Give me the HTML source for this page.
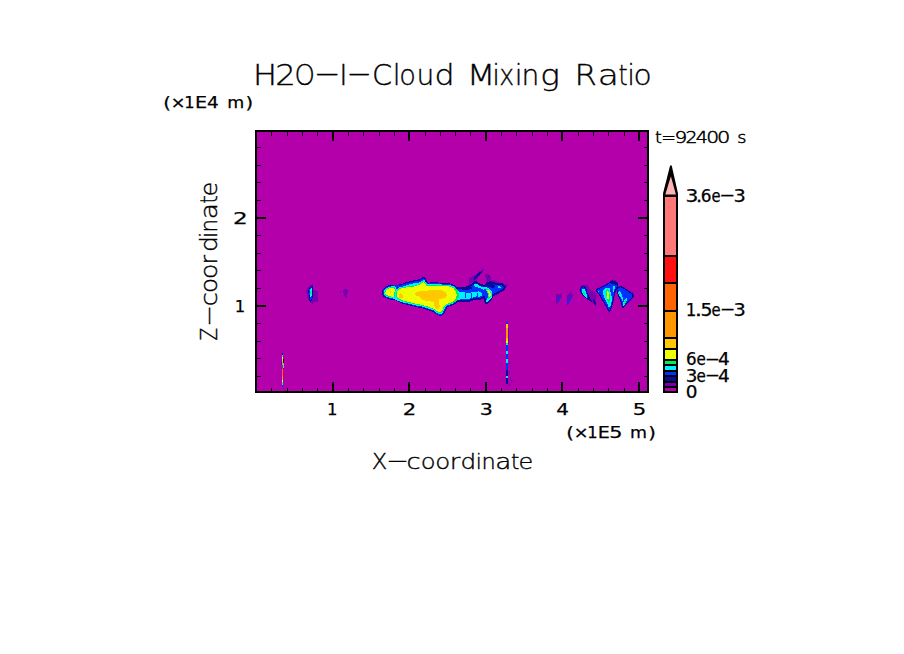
<!DOCTYPE html>
<html><head><meta charset="utf-8"><title>H2O-I-Cloud Mixing Ratio</title>
<style>
html,body{margin:0;padding:0;background:#fff;}
body{width:904px;height:654px;overflow:hidden;position:relative;}
svg{position:absolute;left:0;top:0;display:block;}
text{font-family:"DejaVu Sans","Liberation Sans",sans-serif;fill:#000;}
.lt{font-family:"DejaVu Sans Light","DejaVu Sans","Liberation Sans",sans-serif;font-weight:200;}
.bd{stroke:#000;stroke-width:0.25px;}
</style></head><body>
<svg width="904" height="654" viewBox="0 0 904 654">

<g shape-rendering="crispEdges">
<rect x="255" y="130" width="394" height="263" fill="#000"/>
<rect x="257" y="132" width="390" height="259" fill="#b400aa"/>
</g>
<g shape-rendering="crispEdges">
<polygon points="469.1,277.7 472.4,276.4 474.9,275.2 478.2,272.3 481.5,269.8 484.0,269.0 484.8,270.2 482.3,272.3 479.8,275.2 478.2,277.7 476.5,280.6 474.0,281.8 471.5,283.1 469.5,283.5 469.1,280.6" fill="#7800ae"/>
<polygon points="484.8,274.4 488.1,273.5 490.6,276.4 491.9,278.9 490.6,280.6 487.3,281.8 485.7,280.6 486.5,278.1 485.2,276.4" fill="#7800ae"/>
<polygon points="492.3,280.2 496.4,280.6 498.9,282.7 498.1,284.3 494.8,283.5 492.3,282.3" fill="#7800ae"/>
<polygon points="505.2,284.3 507.2,283.9 507.6,285.6 506.0,286.8" fill="#7800ae"/>
<polygon points="474.0,277.3 478.2,273.1 481.5,271.1 482.3,272.3 479.0,275.6 475.7,279.3 474.0,279.8" fill="#0a0a9a"/>
<polygon points="487.5,275.8 488.8,275.8 488.8,277.1 487.5,277.1" fill="#0a0a9a"/>
<polygon points="385.1,292.4 386.3,290.2 389.6,288.3 394.2,287.8 395.0,289.9 394.2,293.2 394.6,296.4 392.1,296.7 388.0,295.6 385.6,294.3" fill="#0a0a9a" stroke="#0a0a9a" stroke-width="6.4" stroke-linejoin="round"/>
<polygon points="397.5,290.7 400.4,288.7 405.4,287.6 411.2,286.8 415.3,286.3 419.5,284.6 422.4,282.6 424.1,282.4 425.6,284.6 427.0,286.3 431.1,285.5 436.1,285.5 442.7,286.2 448.5,286.2 450.0,286.8 453.3,288.1 455.4,290.6 456.7,294.7 455.8,298.9 453.3,301.4 450.0,303.0 446.0,304.0 443.5,307.3 441.9,311.1 440.2,312.7 437.7,311.5 435.2,309.4 432.8,308.3 429.4,307.2 427.0,306.3 422.8,305.1 417.8,304.2 412.8,303.0 407.9,301.8 402.9,300.5 398.7,298.5 397.1,296.5 397.1,293.2" fill="#0a0a9a" stroke="#0a0a9a" stroke-width="6.4" stroke-linejoin="round"/>
<polygon points="385.1,292.4 386.3,290.2 389.6,288.3 394.2,287.8 395.0,289.9 394.2,293.2 394.6,296.4 392.1,296.7 388.0,295.6 385.6,294.3" fill="#0032ff" stroke="#0032ff" stroke-width="4.8" stroke-linejoin="round"/>
<polygon points="397.5,290.7 400.4,288.7 405.4,287.6 411.2,286.8 415.3,286.3 419.5,284.6 422.4,282.6 424.1,282.4 425.6,284.6 427.0,286.3 431.1,285.5 436.1,285.5 442.7,286.2 448.5,286.2 450.0,286.8 453.3,288.1 455.4,290.6 456.7,294.7 455.8,298.9 453.3,301.4 450.0,303.0 446.0,304.0 443.5,307.3 441.9,311.1 440.2,312.7 437.7,311.5 435.2,309.4 432.8,308.3 429.4,307.2 427.0,306.3 422.8,305.1 417.8,304.2 412.8,303.0 407.9,301.8 402.9,300.5 398.7,298.5 397.1,296.5 397.1,293.2" fill="#0032ff" stroke="#0032ff" stroke-width="4.8" stroke-linejoin="round"/>
<polygon points="397.9,285.6 402.9,284.1 406.5,282.7 413.2,281.0 419.8,279.9 423.2,277.6 424.7,277.6 425.5,281.2 426.1,284.1 419.5,285.3 411.2,286.2 402.9,287.0" fill="#0032ff" stroke="#0a0a9a" stroke-width="1.2" stroke-linejoin="round"/>
<polygon points="390.4,286.2 394.6,285.2 398.7,284.9 402.9,284.4 406.2,283.7 411.2,282.9 414.5,282.4 414.5,285.8 405.4,286.6 398.7,287.4 392.9,287.3" fill="#0032ff"/>
<polygon points="455.8,288.9 460.8,287.6 464.1,288.1 466.6,287.2 469.9,286.0 473.2,283.5 475.7,281.8 478.2,283.5 481.5,285.2 485.7,286.0 486.9,282.7 491.5,282.3 494.8,283.5 498.9,284.3 502.2,284.3 504.7,286.8 504.3,288.9 502.2,290.5 498.9,292.2 495.6,293.9 493.1,295.1 491.9,297.2 490.6,299.7 488.1,302.2 486.1,303.4 485.2,301.3 484.8,298.8 484.0,297.2 481.5,298.4 479.0,299.3 474.9,298.8 469.9,300.5 465.7,300.9 461.6,300.5 458.3,300.5 455.8,300.5" fill="#0032ff" stroke="#0a0a9a" stroke-width="2" stroke-linejoin="round"/>
<polygon points="486.9,282.7 491.5,282.3 494.0,283.9 494.8,286.4 493.1,288.1 490.6,287.2 488.1,286.4 486.9,284.7" fill="#0a0a9a"/>
<polygon points="461.6,288.5 466.6,287.4 469.9,286.2 472.4,288.1 469.9,289.3 465.7,290.1 462.4,290.1" fill="#0a0a9a"/>
<polygon points="455.0,291.4 458.7,291.4 461.6,291.8 464.9,292.6 469.1,293.0 472.4,292.2 475.7,291.8 479.0,291.4 481.5,292.6 481.9,295.5 479.8,296.8 476.5,296.4 473.2,297.2 469.9,298.8 465.7,298.8 461.6,299.3 459.1,299.7 455.0,300.5" fill="#00f0ff"/>
<polygon points="464.7,292.6 465.9,292.6 465.9,297.6 464.7,297.6" fill="#0032ff"/>
<polygon points="470.9,292.6 472.0,292.6 472.0,297.6 470.9,297.6" fill="#0032ff"/>
<polygon points="477.2,292.6 478.4,292.6 478.4,297.6 477.2,297.6" fill="#0032ff"/>
<polygon points="474.0,283.9 476.5,283.5 478.2,285.2 481.5,286.8 484.8,287.6 485.7,288.9 484.0,289.7 480.7,288.5 478.2,287.6 475.7,286.8 474.0,286.0" fill="#00f0ff"/>
<polygon points="484.0,287.2 487.3,287.6 490.6,289.7 492.3,293.0 491.9,297.2 490.2,299.7 487.3,301.7 486.1,302.6 485.7,300.5 487.3,298.8 488.1,295.5 487.3,292.2 485.7,289.7" fill="#00f0ff"/>
<polygon points="484.8,288.1 488.1,288.9 490.6,291.8 491.0,295.9 489.4,298.4 487.7,299.3 488.6,295.9 488.1,292.6 486.5,290.1" fill="#00f050"/>
<polygon points="486.9,289.3 489.0,290.5 490.5,293.0 490.6,295.9 489.6,297.2 488.8,294.3 488.0,291.8" fill="#f0ff00"/>
<polygon points="498.1,286.0 500.2,286.0 500.6,287.6 498.9,288.5 497.9,287.6" fill="#00f0ff"/>
<polygon points="402.9,286.4 407.0,285.1 413.2,283.5 419.8,282.3 423.3,280.4 424.5,280.4 425.1,284.3 419.5,285.1 411.2,286.3" fill="#00f0ff"/>
<polygon points="423.3,285.1 423.6,282.0 424.5,282.0 424.8,285.1" fill="#00f050"/>
<polygon points="385.1,292.4 386.3,290.2 389.6,288.3 394.2,287.8 395.0,289.9 394.2,293.2 394.6,296.4 392.1,296.7 388.0,295.6 385.6,294.3" fill="#00f0ff" stroke="#00f0ff" stroke-width="3.2" stroke-linejoin="round"/>
<polygon points="397.5,290.7 400.4,288.7 405.4,287.6 411.2,286.8 415.3,286.3 419.5,284.6 422.4,282.6 424.1,282.4 425.6,284.6 427.0,286.3 431.1,285.5 436.1,285.5 442.7,286.2 448.5,286.2 450.0,286.8 453.3,288.1 455.4,290.6 456.7,294.7 455.8,298.9 453.3,301.4 450.0,303.0 446.0,304.0 443.5,307.3 441.9,311.1 440.2,312.7 437.7,311.5 435.2,309.4 432.8,308.3 429.4,307.2 427.0,306.3 422.8,305.1 417.8,304.2 412.8,303.0 407.9,301.8 402.9,300.5 398.7,298.5 397.1,296.5 397.1,293.2" fill="#00f0ff" stroke="#00f0ff" stroke-width="3.2" stroke-linejoin="round"/>
<polygon points="385.1,292.4 386.3,290.2 389.6,288.3 394.2,287.8 395.0,289.9 394.2,293.2 394.6,296.4 392.1,296.7 388.0,295.6 385.6,294.3" fill="#00f050" stroke="#00f050" stroke-width="1.6" stroke-linejoin="round"/>
<polygon points="397.5,290.7 400.4,288.7 405.4,287.6 411.2,286.8 415.3,286.3 419.5,284.6 422.4,282.6 424.1,282.4 425.6,284.6 427.0,286.3 431.1,285.5 436.1,285.5 442.7,286.2 448.5,286.2 450.0,286.8 453.3,288.1 455.4,290.6 456.7,294.7 455.8,298.9 453.3,301.4 450.0,303.0 446.0,304.0 443.5,307.3 441.9,311.1 440.2,312.7 437.7,311.5 435.2,309.4 432.8,308.3 429.4,307.2 427.0,306.3 422.8,305.1 417.8,304.2 412.8,303.0 407.9,301.8 402.9,300.5 398.7,298.5 397.1,296.5 397.1,293.2" fill="#00f050" stroke="#00f050" stroke-width="1.6" stroke-linejoin="round"/>
<polygon points="448.3,285.7 454.1,287.2 457.4,289.9 458.9,293.9 458.5,298.0 456.6,300.9 453.3,303.0 448.3,304.7" fill="#00f050"/>
<polygon points="390.4,297.5 394.6,299.2 398.7,301.1 403.7,302.6 408.7,303.4 413.7,304.3 418.7,305.3 422.4,306.3 425.7,307.6 428.2,308.7 431.1,308.8 433.2,309.8 435.2,311.5 435.2,309.4 432.8,308.3 429.4,307.2 427.0,306.3 422.8,305.1 417.8,304.2 412.8,303.0 407.9,301.8 402.9,300.5 398.7,298.5 394.6,296.5" fill="#00f0ff"/>
<polygon points="385.1,292.4 386.3,290.2 389.6,288.3 394.2,287.8 395.0,289.9 394.2,293.2 394.6,296.4 392.1,296.7 388.0,295.6 385.6,294.3" fill="#00f050" stroke="#00f050" stroke-width="1.6" stroke-linejoin="round"/>
<polygon points="397.5,290.7 400.4,288.7 405.4,287.6 411.2,286.8 415.3,286.3 419.5,284.6 422.4,282.6 424.1,282.4 425.6,284.6 427.0,286.3 431.1,285.5 436.1,285.5 442.7,286.2 448.5,286.2 450.0,286.8 453.3,288.1 455.4,290.6 456.7,294.7 455.8,298.9 453.3,301.4 450.0,303.0 446.0,304.0 443.5,307.3 441.9,311.1 440.2,312.7 437.7,311.5 435.2,309.4 432.8,308.3 429.4,307.2 427.0,306.3 422.8,305.1 417.8,304.2 412.8,303.0 407.9,301.8 402.9,300.5 398.7,298.5 397.1,296.5 397.1,293.2" fill="#00f050" stroke="#00f050" stroke-width="1.6" stroke-linejoin="round"/>
<polygon points="385.1,292.4 386.3,290.2 389.6,288.3 394.2,287.8 395.0,289.9 394.2,293.2 394.6,296.4 392.1,296.7 388.0,295.6 385.6,294.3" fill="#f0ff00"/>
<polygon points="397.5,290.7 400.4,288.7 405.4,287.6 411.2,286.8 415.3,286.3 419.5,284.6 422.4,282.6 424.1,282.4 425.6,284.6 427.0,286.3 431.1,285.5 436.1,285.5 442.7,286.2 448.5,286.2 450.0,286.8 453.3,288.1 455.4,290.6 456.7,294.7 455.8,298.9 453.3,301.4 450.0,303.0 446.0,304.0 443.5,307.3 441.9,311.1 440.2,312.7 437.7,311.5 435.2,309.4 432.8,308.3 429.4,307.2 427.0,306.3 422.8,305.1 417.8,304.2 412.8,303.0 407.9,301.8 402.9,300.5 398.7,298.5 397.1,296.5 397.1,293.2" fill="#f0ff00"/>
<polygon points="414.5,294.1 417.0,291.7 421.1,291.2 427.8,290.7 431.9,289.5 436.1,289.5 441.1,290.3 445.2,292.0 447.3,294.9 446.0,297.4 442.7,298.6 439.4,299.5 439.0,303.2 439.8,306.5 438.6,309.0 436.1,309.0 434.4,305.7 434.4,301.9 431.1,301.5 427.0,301.1 422.8,299.9 420.3,297.8 418.7,295.7 416.2,295.7" fill="#ffc800"/>
<polygon points="398.7,294.9 400.8,293.1 402.9,294.9 402.5,297.8 399.6,298.2" fill="#ffc800"/>
<polygon points="390.3,291.2 391.4,291.2 391.4,292.6 390.3,292.6" fill="#ffc800"/>
<polygon points="579.3,289.3 580.8,285.7 584.3,284.6 587.9,285.3 589.4,289.3 592.3,291.3 595.1,292.7 596.6,295.4 596.2,300.8 595.9,305.8 594.4,305.1 593.0,302.9 590.8,302.2 587.9,300.0 583.6,296.8 580.8,293.6" fill="#7800ae"/>
<polygon points="595.5,289.3 599.4,287.5 603.8,285.3 607.4,283.5 610.2,281.0 612.4,279.2 615.6,280.3 618.5,283.5 618.1,286.7 617.1,289.3 615.3,293.6 613.8,300.8 611.0,310.8 609.5,312.6 607.7,310.8 605.2,305.8 601.6,299.7 598.0,293.6" fill="#7800ae"/>
<polygon points="616.1,288.5 618.1,286.4 621.4,285.7 624.6,287.1 627.5,289.3 630.4,291.1 633.6,293.2 634.3,296.1 632.5,299.0 628.2,303.3 622.8,309.0 621.7,306.5 620.3,301.5 618.1,295.0 616.7,291.4" fill="#7800ae"/>
<polygon points="580.0,289.3 581.1,286.7 583.6,286.0 585.8,287.1 586.9,290.0 587.6,292.9 589.0,296.4 590.5,299.3 591.9,300.8 591.5,301.8 589.7,301.1 587.9,299.3 585.8,297.9 583.3,296.1 581.5,293.6 580.2,291.4" fill="#0a0a9a"/>
<polygon points="580.9,289.6 581.8,287.7 584.0,287.2 585.4,288.9 586.4,292.1 587.6,295.7 588.3,298.2 586.5,297.5 583.6,295.4 581.8,292.9" fill="#0032ff"/>
<polygon points="581.8,290.3 582.9,288.9 584.7,289.3 585.8,292.1 586.9,295.7 587.2,297.9 585.8,297.2 583.6,295.0 582.2,292.9" fill="#00f0ff"/>
<polygon points="582.9,291.4 584.0,290.7 585.1,292.9 585.6,295.0 584.7,295.4 583.5,293.6" fill="#00f050"/>
<polygon points="593.3,300.4 594.8,300.4 596.0,302.9 595.9,305.4 594.8,304.4 593.7,302.6" fill="#0a0a9a"/>
<polygon points="596.2,289.6 599.4,288.2 603.8,286.0 607.4,284.2 610.2,282.1 612.4,281.0 615.3,281.7 617.4,283.9 617.1,286.4 616.0,288.9 614.9,291.8 614.2,295.0 613.5,298.6 612.7,302.2 611.7,305.8 610.6,309.4 609.5,311.5 608.4,310.5 607.4,308.0 605.9,305.4 604.5,302.9 602.7,300.0 600.9,296.8 598.7,293.6 596.9,291.4" fill="#0032ff" stroke="#0a0a9a" stroke-width="1" stroke-linejoin="round"/>
<polygon points="609.5,282.4 612.4,281.0 615.3,281.7 617.4,283.9 616.3,285.3 613.8,283.5 611.0,283.5" fill="#0a0a9a"/>
<polygon points="603.0,291.1 604.5,288.9 606.6,287.5 608.8,287.5 610.2,289.3 610.6,292.9 611.3,295.7 612.0,296.8 611.7,300.8 611.0,304.4 609.9,307.2 608.4,306.5 607.4,303.6 605.9,300.8 604.5,297.9 603.4,294.3" fill="#00f0ff"/>
<polygon points="610.7,288.5 611.8,288.5 612.1,296.4 611.2,295.7" fill="#0032ff"/>
<polygon points="605.9,290.0 607.7,288.9 609.2,290.7 609.5,294.3 609.9,298.6 609.5,302.2 608.4,303.6 607.4,300.8 606.6,296.4 606.1,292.9" fill="#00f050"/>
<polygon points="607.0,291.4 608.2,290.8 608.9,293.6 608.9,297.2 608.2,299.7 607.4,298.6 607.0,295.0" fill="#f0ff00"/>
<polygon points="613.1,286.4 614.5,286.0 614.9,287.5 613.8,290.7 613.1,292.9 612.7,290.0" fill="#00f0ff"/>
<polygon points="597.9,290.8 599.1,290.8 599.1,292.1 597.9,292.1" fill="#00f0ff"/>
<polygon points="616.7,288.9 618.1,287.5 621.0,286.7 623.9,288.2 626.8,290.3 629.6,292.1 632.5,293.9 633.2,296.1 631.8,298.2 629.6,300.4 627.5,302.6 625.3,304.7 623.9,306.5 622.8,308.0 622.1,305.8 621.4,302.9 620.3,300.0 618.9,296.4 617.8,292.9 617.1,290.7" fill="#0032ff" stroke="#0a0a9a" stroke-width="1" stroke-linejoin="round"/>
<polygon points="618.1,291.8 619.6,291.1 621.0,293.2 622.1,295.7 623.2,298.2 623.5,300.4 622.5,300.8 621.0,298.2 619.6,295.7 618.5,293.6" fill="#00f0ff"/>
<polygon points="618.7,292.7 619.9,292.7 619.9,293.9 618.7,293.9" fill="#00f050"/>
<polygon points="622.8,303.6 623.9,300.8 625.7,298.6 626.9,298.2 626.8,300.8 625.3,303.3 623.9,305.8 623.0,306.9" fill="#00f0ff"/>
<polygon points="623.9,302.6 625.0,300.4 626.2,299.7 626.2,301.1 625.0,303.3 624.0,304.4" fill="#00f050"/>
<polygon points="556.4,294.2 559.5,293.6 562.5,292.4 561.9,296.6 559.5,300.9 556.4,303.9 555.6,301.5" fill="#7800ae"/>
<polygon points="557.0,300.3 560.1,297.2 560.9,298.5 558.3,302.1" fill="#0032ff"/>
<polygon points="566.8,295.4 571.6,291.2 573.1,295.4 571.0,299.7 568.6,303.9 566.5,305.8" fill="#7800ae"/>
<polygon points="567.4,301.5 570.4,296.6 571.9,297.2 569.2,302.1 567.4,304.5" fill="#0032ff"/>
<polygon points="306.1,290.8 307.9,287.7 311.0,284.7 313.1,284.1 313.4,289.6 315.8,290.2 317.6,291.1 317.9,302.3 316.4,302.0 314.6,301.4 312.8,303.6 311.0,303.2 309.1,301.4 307.0,296.3" fill="#7800ae"/>
<polygon points="308.2,291.1 309.1,288.3 311.0,286.5 312.8,286.2 312.9,292.6 312.5,298.1 311.9,301.4 310.3,301.7 309.1,300.5 309.0,296.3" fill="#0a0a9a"/>
<polygon points="309.2,290.2 310.3,287.7 312.2,287.1 312.5,292.6 311.9,297.5 311.3,299.9 310.0,299.6 309.6,296.3" fill="#0032ff"/>
<polygon points="309.9,290.2 311.0,288.0 311.9,288.6 311.9,293.2 311.4,296.3 310.6,297.2 310.0,296.3" fill="#00f0ff"/>
<polygon points="310.5,290.8 311.4,289.9 311.6,292.6 311.0,294.1 310.3,293.5" fill="#00f050"/>
<polygon points="343.2,290.2 345.0,289.0 346.8,289.3 348.1,291.4 347.2,293.2 346.8,297.5 345.3,297.8 344.1,295.6 344.1,292.9 343.1,292.3" fill="#7800ae"/>
<polygon points="339.9,291.1 341.1,291.1 341.1,292.9 339.9,292.9" fill="#7800ae"/>
<rect x="281.9" y="353.4" width="1.4" height="2.0" fill="#0a0a9a"/>
<rect x="281.9" y="355.4" width="1.4" height="0.8" fill="#00f0ff"/>
<rect x="281.9" y="356.2" width="1.4" height="0.8" fill="#00f050"/>
<rect x="281.9" y="357" width="1.4" height="2" fill="#f0ff00"/>
<rect x="281.9" y="359" width="1.4" height="3" fill="#ffc800"/>
<rect x="281.9" y="362" width="1.4" height="3" fill="#ff9600"/>
<rect x="281.9" y="365" width="1.4" height="3.7" fill="#ff1010"/>
<rect x="281.9" y="368.7" width="1.4" height="6.9" fill="#ff6400"/>
<rect x="281.9" y="375.6" width="1.4" height="4.2" fill="#ff9600"/>
<rect x="281.9" y="379.8" width="1.4" height="2.0" fill="#f0ff00"/>
<rect x="281.9" y="381.8" width="1.4" height="3.0" fill="#00f0ff"/>
<rect x="281.9" y="384.8" width="1.4" height="2.5" fill="#0032ff"/>
<rect x="283.2" y="358.8" width="1" height="4.0" fill="#0a0a9a"/>
<rect x="283.2" y="362.8" width="1" height="5.2" fill="#00f0ff"/>
<rect x="283.2" y="368" width="1" height="1.2" fill="#0032ff"/>
<rect x="281" y="360.5" width="0.9" height="4" fill="#7800ae"/>
<rect x="506" y="321.7" width="2" height="1.9" fill="#0032ff"/>
<rect x="506" y="323.6" width="2" height="4.0" fill="#ffc800"/>
<rect x="506" y="327.6" width="2" height="10.4" fill="#ff9600"/>
<rect x="506" y="338" width="2" height="3" fill="#ffc800"/>
<rect x="506" y="341" width="2" height="2" fill="#f0ff00"/>
<rect x="506" y="343" width="2" height="1.2" fill="#00f050"/>
<rect x="506" y="344.2" width="2" height="1.2" fill="#00f0ff"/>
<rect x="506" y="345.4" width="2" height="5.1" fill="#0032ff"/>
<rect x="506" y="350.5" width="2" height="3.5" fill="#00f0ff"/>
<rect x="506" y="354" width="2" height="4.6" fill="#0032ff"/>
<rect x="506" y="358.6" width="2" height="4.6" fill="#00f0ff"/>
<rect x="506.4" y="363.2" width="1.2" height="6.8" fill="#0032ff"/>
<rect x="506.4" y="370" width="1.2" height="6.4" fill="#0a0a9a"/>
<rect x="506.4" y="376.4" width="1.2" height="1.6" fill="#00f0ff"/>
<rect x="506.4" y="378" width="1.2" height="6.4" fill="#0a0a9a"/>
<rect x="508" y="327.5" width="0.8" height="16" fill="#7800ae"/>
<rect x="508.5" y="361" width="1" height="2.5" fill="#7800ae"/>
<rect x="509.5" y="366" width="1" height="2.5" fill="#7800ae"/>
<rect x="508.5" y="371" width="1" height="2.5" fill="#7800ae"/>
<rect x="510" y="377" width="1" height="2.5" fill="#7800ae"/>
<rect x="511" y="380" width="1" height="2.5" fill="#7800ae"/>
<rect x="513" y="379.5" width="1" height="2.5" fill="#7800ae"/>
<rect x="509" y="383" width="1" height="2.5" fill="#7800ae"/>
</g>
<g shape-rendering="crispEdges" fill="#000">
<rect x="271" y="388" width="1" height="3"/>
<rect x="271" y="132" width="1" height="4"/>
<rect x="287" y="388" width="1" height="3"/>
<rect x="287" y="132" width="1" height="4"/>
<rect x="302" y="388" width="1" height="3"/>
<rect x="302" y="132" width="1" height="4"/>
<rect x="317" y="388" width="1" height="3"/>
<rect x="317" y="132" width="1" height="4"/>
<rect x="332" y="382" width="2" height="9"/>
<rect x="332" y="132" width="2" height="9"/>
<rect x="348" y="388" width="1" height="3"/>
<rect x="348" y="132" width="1" height="4"/>
<rect x="363" y="388" width="1" height="3"/>
<rect x="363" y="132" width="1" height="4"/>
<rect x="379" y="388" width="1" height="3"/>
<rect x="379" y="132" width="1" height="4"/>
<rect x="394" y="388" width="1" height="3"/>
<rect x="394" y="132" width="1" height="4"/>
<rect x="408" y="382" width="2" height="9"/>
<rect x="408" y="132" width="2" height="9"/>
<rect x="425" y="388" width="1" height="3"/>
<rect x="425" y="132" width="1" height="4"/>
<rect x="440" y="388" width="1" height="3"/>
<rect x="440" y="132" width="1" height="4"/>
<rect x="455" y="388" width="1" height="3"/>
<rect x="455" y="132" width="1" height="4"/>
<rect x="470" y="388" width="1" height="3"/>
<rect x="470" y="132" width="1" height="4"/>
<rect x="485" y="382" width="2" height="9"/>
<rect x="485" y="132" width="2" height="9"/>
<rect x="501" y="388" width="1" height="3"/>
<rect x="501" y="132" width="1" height="4"/>
<rect x="516" y="388" width="1" height="3"/>
<rect x="516" y="132" width="1" height="4"/>
<rect x="532" y="388" width="1" height="3"/>
<rect x="532" y="132" width="1" height="4"/>
<rect x="547" y="388" width="1" height="3"/>
<rect x="547" y="132" width="1" height="4"/>
<rect x="561" y="382" width="2" height="9"/>
<rect x="561" y="132" width="2" height="9"/>
<rect x="578" y="388" width="1" height="3"/>
<rect x="578" y="132" width="1" height="4"/>
<rect x="593" y="388" width="1" height="3"/>
<rect x="593" y="132" width="1" height="4"/>
<rect x="608" y="388" width="1" height="3"/>
<rect x="608" y="132" width="1" height="4"/>
<rect x="624" y="388" width="1" height="3"/>
<rect x="624" y="132" width="1" height="4"/>
<rect x="638" y="382" width="2" height="9"/>
<rect x="638" y="132" width="2" height="9"/>
<rect x="257" y="147" width="4" height="1"/>
<rect x="644" y="147" width="3" height="1"/>
<rect x="257" y="165" width="4" height="1"/>
<rect x="644" y="165" width="3" height="1"/>
<rect x="257" y="182" width="4" height="1"/>
<rect x="644" y="182" width="3" height="1"/>
<rect x="257" y="200" width="4" height="1"/>
<rect x="644" y="200" width="3" height="1"/>
<rect x="257" y="235" width="4" height="1"/>
<rect x="644" y="235" width="3" height="1"/>
<rect x="257" y="253" width="4" height="1"/>
<rect x="644" y="253" width="3" height="1"/>
<rect x="257" y="270" width="4" height="1"/>
<rect x="644" y="270" width="3" height="1"/>
<rect x="257" y="288" width="4" height="1"/>
<rect x="644" y="288" width="3" height="1"/>
<rect x="257" y="323" width="4" height="1"/>
<rect x="644" y="323" width="3" height="1"/>
<rect x="257" y="341" width="4" height="1"/>
<rect x="644" y="341" width="3" height="1"/>
<rect x="257" y="358" width="4" height="1"/>
<rect x="644" y="358" width="3" height="1"/>
<rect x="257" y="376" width="4" height="1"/>
<rect x="644" y="376" width="3" height="1"/>
<rect x="257" y="217" width="9" height="2"/>
<rect x="638" y="217" width="9" height="2"/>
<rect x="257" y="305" width="9" height="2"/>
<rect x="638" y="305" width="9" height="2"/>
</g>
<g shape-rendering="crispEdges">
<rect x="663" y="195" width="15" height="198" fill="#000"/>
<rect x="665" y="197" width="11" height="58" fill="#ff7878"/>
<rect x="665" y="257" width="11" height="25" fill="#ff1010"/>
<rect x="665" y="284" width="11" height="26" fill="#ff6400"/>
<rect x="665" y="312" width="11" height="25" fill="#ff9600"/>
<rect x="665" y="339" width="11" height="9" fill="#ffc800"/>
<rect x="665" y="350" width="11" height="9" fill="#f0ff00"/>
<rect x="665" y="361" width="11" height="3" fill="#00f050"/>
<rect x="665" y="366" width="11" height="4" fill="#00f0ff"/>
<rect x="665" y="372" width="11" height="3" fill="#0032ff"/>
<rect x="665" y="377" width="11" height="4" fill="#0a0a9a"/>
<rect x="665" y="383" width="11" height="3" fill="#7800aa"/>
<rect x="665" y="388" width="11" height="3" fill="#b400aa"/>
</g>
<polygon points="663,197 663,193.5 670.1,165.6 671.7,165.6 678,193.5 678,197" fill="#000"/>
<polygon points="665.3,194.6 670.9,176.3 675.9,194.6" fill="#ffb4b4"/>
<text class="lt" font-size="28" id="title" stroke="#000" stroke-width="0.35"><tspan x="253.11" y="84.80" textLength="24.06" lengthAdjust="spacingAndGlyphs">H</tspan><tspan x="275.16" y="84.80" textLength="20.58" lengthAdjust="spacingAndGlyphs">2</tspan><tspan x="294.38" y="84.80" textLength="20.43" lengthAdjust="spacingAndGlyphs">O</tspan><tspan x="313.76" y="82.40" textLength="26.87" lengthAdjust="spacingAndGlyphs">-</tspan><tspan x="339.20" y="84.80" textLength="8.26" lengthAdjust="spacingAndGlyphs">I</tspan><tspan x="346.57" y="82.40" textLength="25.36" lengthAdjust="spacingAndGlyphs">-</tspan><tspan x="371.90" y="84.80" textLength="20.16" lengthAdjust="spacingAndGlyphs">C</tspan><tspan x="392.70" y="84.80" textLength="7.78" lengthAdjust="spacingAndGlyphs">l</tspan><tspan x="399.35" y="84.80" textLength="16.61" lengthAdjust="spacingAndGlyphs">o</tspan><tspan x="416.58" y="84.80" textLength="17.80" lengthAdjust="spacingAndGlyphs">u</tspan><tspan x="434.47" y="84.80" textLength="20.16" lengthAdjust="spacingAndGlyphs">d</tspan> <tspan x="466.66" y="84.80" textLength="28.68" lengthAdjust="spacingAndGlyphs">M</tspan><tspan x="492.23" y="84.80" textLength="7.78" lengthAdjust="spacingAndGlyphs">i</tspan><tspan x="499.20" y="84.80" textLength="14.90" lengthAdjust="spacingAndGlyphs">x</tspan><tspan x="514.73" y="84.80" textLength="7.78" lengthAdjust="spacingAndGlyphs">i</tspan><tspan x="521.62" y="84.80" textLength="17.80" lengthAdjust="spacingAndGlyphs">n</tspan><tspan x="540.27" y="84.80" textLength="19.60" lengthAdjust="spacingAndGlyphs">g</tspan> <tspan x="574.53" y="84.80" textLength="22.40" lengthAdjust="spacingAndGlyphs">R</tspan><tspan x="597.67" y="84.80" textLength="21.14" lengthAdjust="spacingAndGlyphs">a</tspan><tspan x="618.44" y="84.80" textLength="9.14" lengthAdjust="spacingAndGlyphs">t</tspan><tspan x="627.13" y="84.80" textLength="7.78" lengthAdjust="spacingAndGlyphs">i</tspan><tspan x="633.44" y="84.80" textLength="18.23" lengthAdjust="spacingAndGlyphs">o</tspan></text>
<text class="bd" font-size="16.4" id="yunit"><tspan x="163.31" y="108.40" textLength="7.66" lengthAdjust="spacingAndGlyphs">(</tspan><tspan x="170.79" y="108.40" textLength="14.71" lengthAdjust="spacingAndGlyphs">×</tspan><tspan x="184.24" y="108.40" textLength="10.43" lengthAdjust="spacingAndGlyphs">1</tspan><tspan x="194.92" y="108.40" textLength="12.11" lengthAdjust="spacingAndGlyphs">E</tspan><tspan x="207.10" y="108.40" textLength="11.74" lengthAdjust="spacingAndGlyphs">4</tspan> <tspan x="227.22" y="108.40" textLength="16.96" lengthAdjust="spacingAndGlyphs">m</tspan><tspan x="245.43" y="108.40" textLength="7.66" lengthAdjust="spacingAndGlyphs">)</tspan></text>
<text class="bd" font-size="16.4" id="xunit"><tspan x="566.21" y="437.70" textLength="7.66" lengthAdjust="spacingAndGlyphs">(</tspan><tspan x="573.69" y="437.70" textLength="14.71" lengthAdjust="spacingAndGlyphs">×</tspan><tspan x="587.14" y="437.70" textLength="10.43" lengthAdjust="spacingAndGlyphs">1</tspan><tspan x="597.82" y="437.70" textLength="12.11" lengthAdjust="spacingAndGlyphs">E</tspan><tspan x="609.30" y="437.70" textLength="13.22" lengthAdjust="spacingAndGlyphs">5</tspan> <tspan x="630.12" y="437.70" textLength="16.96" lengthAdjust="spacingAndGlyphs">m</tspan><tspan x="648.33" y="437.70" textLength="7.66" lengthAdjust="spacingAndGlyphs">)</tspan></text>
<text class="lt" font-size="16" id="tlabel" stroke="#000" stroke-width="0.5"><tspan x="655.02" y="142.70" textLength="6.89" lengthAdjust="spacingAndGlyphs">t</tspan><tspan x="661.34" y="142.70" textLength="14.72" lengthAdjust="spacingAndGlyphs">=</tspan><tspan x="674.64" y="142.70" textLength="12.80" lengthAdjust="spacingAndGlyphs">9</tspan><tspan x="685.59" y="142.70" textLength="11.99" lengthAdjust="spacingAndGlyphs">2</tspan><tspan x="695.77" y="142.70" textLength="12.16" lengthAdjust="spacingAndGlyphs">4</tspan><tspan x="706.39" y="142.70" textLength="12.89" lengthAdjust="spacingAndGlyphs">0</tspan><tspan x="716.93" y="142.70" textLength="13.31" lengthAdjust="spacingAndGlyphs">0</tspan> <tspan x="737.37" y="142.70" textLength="9.19" lengthAdjust="spacingAndGlyphs">s</tspan></text>
<text class="lt" font-size="22" id="xtitle" stroke="#000" stroke-width="0.4"><tspan x="371.67" y="468.60" textLength="15.50" lengthAdjust="spacingAndGlyphs">X</tspan><tspan x="386.24" y="466.80" textLength="22.62" lengthAdjust="spacingAndGlyphs">-</tspan><tspan x="406.64" y="468.60" textLength="14.16" lengthAdjust="spacingAndGlyphs">c</tspan><tspan x="420.78" y="468.60" textLength="14.85" lengthAdjust="spacingAndGlyphs">o</tspan><tspan x="435.16" y="468.60" textLength="14.99" lengthAdjust="spacingAndGlyphs">o</tspan><tspan x="449.67" y="468.60" textLength="10.56" lengthAdjust="spacingAndGlyphs">r</tspan><tspan x="460.63" y="468.60" textLength="15.69" lengthAdjust="spacingAndGlyphs">d</tspan><tspan x="475.74" y="468.60" textLength="6.11" lengthAdjust="spacingAndGlyphs">i</tspan><tspan x="481.55" y="468.60" textLength="14.27" lengthAdjust="spacingAndGlyphs">n</tspan><tspan x="495.24" y="468.60" textLength="16.15" lengthAdjust="spacingAndGlyphs">a</tspan><tspan x="510.94" y="468.60" textLength="8.35" lengthAdjust="spacingAndGlyphs">t</tspan><tspan x="518.41" y="468.60" textLength="14.70" lengthAdjust="spacingAndGlyphs">e</tspan></text>
<text class="lt" font-size="22.5" id="ytitle" stroke="#000" stroke-width="0.4" transform="translate(217.4,339.6) rotate(-90)"><tspan x="-0.83" y="0.00" textLength="12.66" lengthAdjust="spacingAndGlyphs">Z</tspan><tspan x="12.87" y="-1.80" textLength="21.66" lengthAdjust="spacingAndGlyphs">-</tspan><tspan x="33.36" y="0.00" textLength="14.03" lengthAdjust="spacingAndGlyphs">c</tspan><tspan x="46.64" y="0.00" textLength="15.12" lengthAdjust="spacingAndGlyphs">o</tspan><tspan x="60.63" y="0.00" textLength="15.26" lengthAdjust="spacingAndGlyphs">o</tspan><tspan x="75.04" y="0.00" textLength="9.59" lengthAdjust="spacingAndGlyphs">r</tspan><tspan x="87.61" y="0.00" textLength="15.84" lengthAdjust="spacingAndGlyphs">d</tspan><tspan x="101.67" y="0.00" textLength="6.25" lengthAdjust="spacingAndGlyphs">i</tspan><tspan x="107.16" y="0.00" textLength="13.66" lengthAdjust="spacingAndGlyphs">n</tspan><tspan x="120.44" y="0.00" textLength="16.15" lengthAdjust="spacingAndGlyphs">a</tspan><tspan x="136.06" y="0.00" textLength="8.22" lengthAdjust="spacingAndGlyphs">t</tspan><tspan x="143.44" y="0.00" textLength="14.43" lengthAdjust="spacingAndGlyphs">e</tspan></text>
<text class="bd" font-size="16.5" id="xt1"><tspan x="326.91" y="414.60" textLength="10.50" lengthAdjust="spacingAndGlyphs">1</tspan></text>
<text class="bd" font-size="16.5" id="xt2"><tspan x="402.65" y="414.60" textLength="13.47" lengthAdjust="spacingAndGlyphs">2</tspan></text>
<text class="bd" font-size="16.5" id="xt3"><tspan x="479.73" y="414.60" textLength="13.12" lengthAdjust="spacingAndGlyphs">3</tspan></text>
<text class="bd" font-size="16.5" id="xt4"><tspan x="556.33" y="414.60" textLength="12.69" lengthAdjust="spacingAndGlyphs">4</tspan></text>
<text class="bd" font-size="16.5" id="xt5"><tspan x="632.66" y="414.60" textLength="13.49" lengthAdjust="spacingAndGlyphs">5</tspan></text>
<text class="bd" font-size="16.5" id="yt2"><tspan x="233.11" y="223.90" textLength="14.71" lengthAdjust="spacingAndGlyphs">2</tspan></text>
<text class="bd" font-size="16.5" id="yt1"><tspan x="234.81" y="311.70" textLength="10.50" lengthAdjust="spacingAndGlyphs">1</tspan></text>
<text class="bd" font-size="16.8" id="cb0"><tspan x="685.46" y="201.70" textLength="12.86" lengthAdjust="spacingAndGlyphs">3</tspan><tspan x="696.12" y="201.70" textLength="6.17" lengthAdjust="spacingAndGlyphs">.</tspan><tspan x="700.82" y="201.70" textLength="10.74" lengthAdjust="spacingAndGlyphs">6</tspan><tspan x="711.48" y="201.70" textLength="9.10" lengthAdjust="spacingAndGlyphs">e</tspan><tspan x="719.48" y="200.20" textLength="15.63" lengthAdjust="spacingAndGlyphs">-</tspan><tspan x="733.42" y="201.70" textLength="12.33" lengthAdjust="spacingAndGlyphs">3</tspan></text>
<text class="bd" font-size="16.8" id="cb1"><tspan x="685.81" y="315.90" textLength="10.69" lengthAdjust="spacingAndGlyphs">1</tspan><tspan x="694.81" y="315.90" textLength="7.40" lengthAdjust="spacingAndGlyphs">.</tspan><tspan x="700.64" y="315.90" textLength="12.00" lengthAdjust="spacingAndGlyphs">5</tspan><tspan x="711.48" y="315.90" textLength="9.10" lengthAdjust="spacingAndGlyphs">e</tspan><tspan x="719.94" y="314.40" textLength="15.22" lengthAdjust="spacingAndGlyphs">-</tspan><tspan x="733.42" y="315.90" textLength="12.33" lengthAdjust="spacingAndGlyphs">3</tspan></text>
<text class="bd" font-size="16.8" id="cb2"><tspan x="685.93" y="365.00" textLength="10.62" lengthAdjust="spacingAndGlyphs">6</tspan><tspan x="696.46" y="365.00" textLength="9.35" lengthAdjust="spacingAndGlyphs">e</tspan><tspan x="704.98" y="363.50" textLength="14.94" lengthAdjust="spacingAndGlyphs">-</tspan><tspan x="718.00" y="365.00" textLength="11.74" lengthAdjust="spacingAndGlyphs">4</tspan></text>
<text class="bd" font-size="16.8" id="cb3"><tspan x="685.70" y="381.80" textLength="11.66" lengthAdjust="spacingAndGlyphs">3</tspan><tspan x="696.46" y="381.80" textLength="9.35" lengthAdjust="spacingAndGlyphs">e</tspan><tspan x="704.98" y="380.30" textLength="14.94" lengthAdjust="spacingAndGlyphs">-</tspan><tspan x="718.00" y="381.80" textLength="11.74" lengthAdjust="spacingAndGlyphs">4</tspan></text>
<text class="bd" font-size="16.8" id="cb4"><tspan x="685.88" y="397.80" textLength="11.74" lengthAdjust="spacingAndGlyphs">0</tspan></text>
</svg></body></html>
